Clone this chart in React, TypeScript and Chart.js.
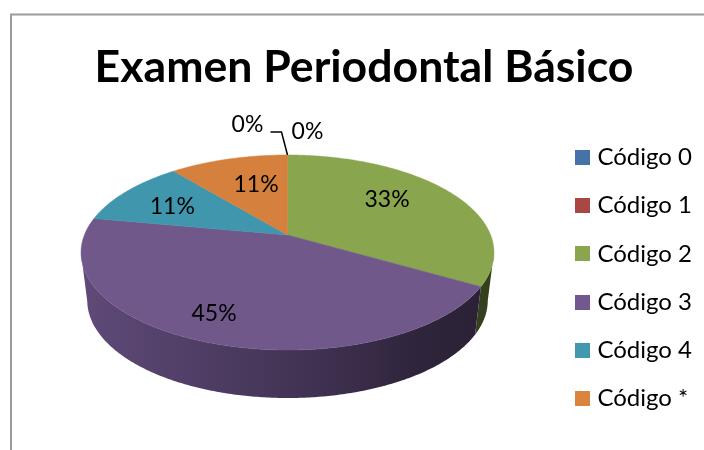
import React, { useEffect, useRef } from "react";
import { Chart, registerables } from "chart.js";

Chart.register(...registerables);

const categories = ["Código 0", "Código 1", "Código 2", "Código 3", "Código 4", "Código *"];
const shares = [0, 0, 33.3, 44.6, 11.1, 11.0];
const colors = ["#4572A7", "#AA4643", "#89A54E", "#71588F", "#4198AF", "#DB843D"];
const topColors = ["#4572A7", "#AA4643", "#89A54E", "#71588B", "#4096AD", "#D5803C"];

const FONT = "Lato, Carlito, Calibri, sans-serif";
const K = 0.1795;
const CX = 287.5;
const APEX_Y = 235;
const RX = 203.1;
const RY = 94.36;
const DEPTH = 48;
const BOTTOM_SCALE = 0.97;

function project(u: number, v: number, bottom = false) {
  const w = 1 - K * v;
  const s = bottom ? BOTTOM_SCALE : 1;
  return { x: CX + (s * RX * u) / w, y: APEX_Y + (bottom ? DEPTH : 0) + (RY * v) / w };
}

function shaded(hex: string, f: number) {
  const n = parseInt(hex.slice(1), 16);
  return `rgb(${Math.round(((n >> 16) & 255) * f)},${Math.round(((n >> 8) & 255) * f)},${Math.round((n & 255) * f)})`;
}

const shadeStops: [number, number][] = [[0, 0.84], [0.25, 0.72], [0.5, 0.6], [0.72, 0.48], [0.8, 0.42], [1, 0.38]];

// radial fraction and angular nudge (degrees) of each in-slice label
const labelPlace = [null, null, { r: 0.658, da: -7 }, { r: 0.793, da: 3.2 }, { r: 0.6775, da: -2.6 }, { r: 0.61, da: 3.5 }];

const pie3d = {
  id: "pie3d",
  beforeDatasetsDraw(chart: any) {
    const ctx = chart.ctx;
    const arcs = chart.getDatasetMeta(0).data;
    const data = chart.data.datasets[0].data as number[];
    const total = data.reduce((a, b) => a + b, 0);
    ctx.save();
    // walls (front part only, bounded by the silhouette where sin(a) = K)
    arcs.forEach((el: any, i: number) => {
      const span = el.endAngle - el.startAngle;
      if (span <= 0) return;
      const n = Math.ceil(span / 0.01);
      const top: any[] = [];
      const bot: any[] = [];
      for (let j = 0; j <= n; j++) {
        const a = el.startAngle + (span * j) / n;
        if (Math.sin(a) < K) continue;
        top.push(project(Math.cos(a), Math.sin(a)));
        bot.push(project(Math.cos(a), Math.sin(a), true));
      }
      if (top.length < 2) return;
      const g = ctx.createLinearGradient(CX - RX, 0, CX + RX, 0);
      shadeStops.forEach(([t, f]) => g.addColorStop(t, shaded(colors[i], f)));
      ctx.beginPath();
      top.forEach((p, j) => (j ? ctx.lineTo(p.x, p.y) : ctx.moveTo(p.x, p.y)));
      bot.reverse().forEach((p) => ctx.lineTo(p.x, p.y));
      ctx.closePath();
      ctx.fillStyle = g;
      ctx.fill();
    });
    // top faces
    arcs.forEach((el: any, i: number) => {
      const span = el.endAngle - el.startAngle;
      if (span <= 0) return;
      ctx.beginPath();
      ctx.moveTo(CX, APEX_Y);
      const n = Math.ceil(span / 0.01);
      for (let j = 0; j <= n; j++) {
        const a = el.startAngle + (span * j) / n;
        const p = project(Math.cos(a), Math.sin(a));
        ctx.lineTo(p.x, p.y);
      }
      ctx.closePath();
      ctx.fillStyle = topColors[i];
      ctx.strokeStyle = topColors[i];
      ctx.lineWidth = 0.5;
      ctx.fill();
      ctx.stroke();
    });
    // labels
    ctx.fillStyle = "#000";
    ctx.font = `23px ${FONT}`;
    ctx.textAlign = "center";
    ctx.textBaseline = "middle";
    arcs.forEach((el: any, i: number) => {
      const place = labelPlace[i];
      const txt = `${Math.round((data[i] / total) * 100)}%`;
      if (!place) return;
      const a = (el.startAngle + el.endAngle) / 2 + (place.da * Math.PI) / 180;
      const p = project(place.r * Math.cos(a), place.r * Math.sin(a));
      ctx.fillText(txt, p.x, p.y);
    });
    // zero-value labels with leader
    const top = project(Math.cos(arcs[0].startAngle), Math.sin(arcs[0].startAngle));
    ctx.fillText(`${Math.round((data[0] / total) * 100)}%`, top.x - 40, top.y - 30);
    ctx.fillText(`${Math.round((data[1] / total) * 100)}%`, top.x + 20, top.y - 23);
    ctx.beginPath();
    ctx.moveTo(top.x, top.y);
    ctx.lineTo(top.x - 6, top.y - 23);
    ctx.lineTo(top.x - 17, top.y - 23);
    ctx.strokeStyle = "#000";
    ctx.lineWidth = 1.5;
    ctx.stroke();
    ctx.restore();
    return false;
  },
};

const frame = {
  id: "frame",
  beforeDraw(chart: any) {
    const ctx = chart.ctx;
    ctx.save();
    ctx.strokeStyle = "#9c9c9c";
    ctx.lineWidth = 2;
    ctx.beginPath();
    ctx.moveTo(11, chart.height);
    ctx.lineTo(11, 14.5);
    ctx.lineTo(chart.width, 14.5);
    ctx.stroke();
    ctx.restore();
  },
};

function swatch(color: string) {
  const c = document.createElement("canvas");
  c.width = 15;
  c.height = 15;
  const x = c.getContext("2d")!;
  x.fillStyle = color;
  x.fillRect(0, 0, 15, 15);
  return c;
}

export default function App() {
  const ref = useRef<HTMLCanvasElement>(null);
  useEffect(() => {
    document.body.style.margin = "0";
    const chart = new Chart(ref.current!, {
      type: "pie",
      data: {
        labels: categories,
        datasets: [{ data: shares, backgroundColor: colors, borderWidth: 0 }],
      },
      options: {
        animation: false,
        responsive: false,
        layout: { padding: { left: 26, top: 41, right: 2, bottom: -65 } },
        plugins: {
          tooltip: { enabled: false },
          title: {
            display: true,
            text: "Examen Periodontal Básico",
            color: "#000",
            font: { family: FONT, size: 44.6, weight: "bold" },
            padding: { top: 0, bottom: 27 },
          },
          legend: {
            position: "right",
            labels: {
              color: "#000",
              usePointStyle: true,
              pointStyleWidth: 5,
              boxHeight: 15,
              padding: 24.2,
              font: { family: FONT, size: 24 },
              generateLabels(c: any) {
                return categories.map((text, index) => ({
                  text,
                  index,
                  hidden: false,
                  fontColor: "#000",
                  pointStyle: swatch(colors[index]),
                }));
              },
            },
          },
        },
      },
      plugins: [frame, pie3d],
    } as any);
    return () => chart.destroy();
  }, []);
  return <canvas ref={ref} width={704} height={450} style={{ display: "block" }} />;
}
